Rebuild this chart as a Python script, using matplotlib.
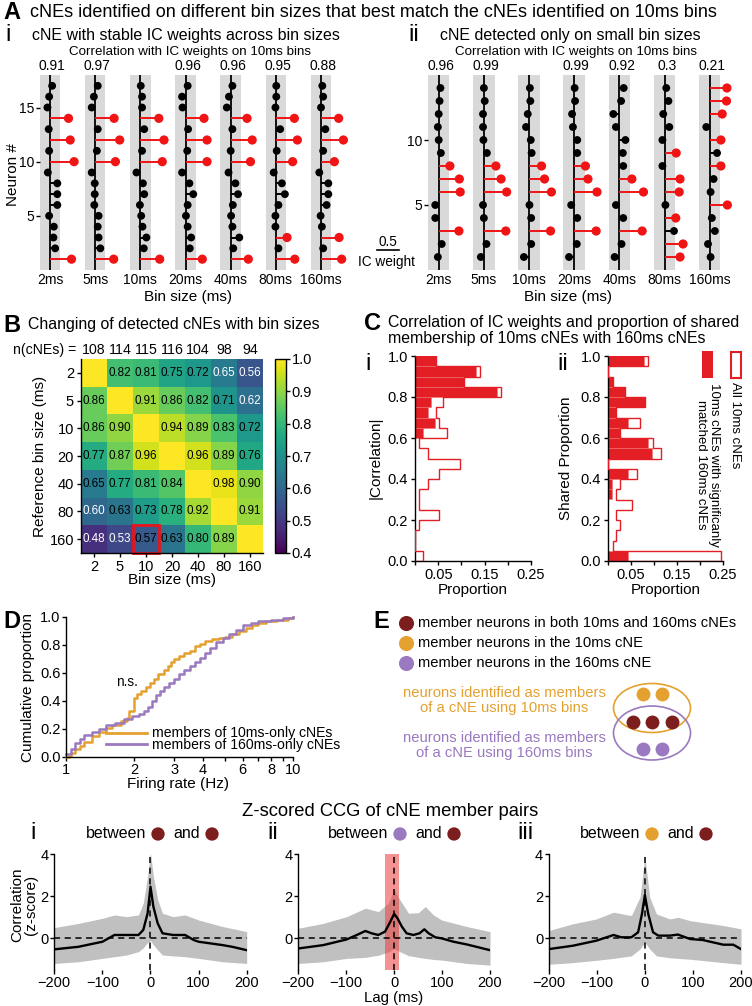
import numpy as np
import matplotlib
matplotlib.use("Agg")
import matplotlib.pyplot as plt
from matplotlib.patches import Rectangle, Ellipse
from matplotlib.transforms import blended_transform_factory
from matplotlib.ticker import NullFormatter

plt.rcParams["font.family"] = ["Liberation Sans", "DejaVu Sans"]
plt.rcParams["axes.linewidth"] = 1.0
plt.rcParams["xtick.major.width"] = 1.0
plt.rcParams["ytick.major.width"] = 1.0
plt.rcParams["xtick.minor.width"] = 1.0

# ---------------- data ----------------
bin_labels = ["2ms", "5ms", "10ms", "20ms", "40ms", "80ms", "160ms"]
bin_sizes = ["2", "5", "10", "20", "40", "80", "160"]

# A-i: IC weights, listed top neuron (17) -> bottom neuron (1)
ai_weights = [
    [0.05, -0.02, -0.06, 0.43, -0.03, 0.47, -0.02, 0.56, -0.05, 0.17, 0.17, 0.17, -0.02, 0.09, 0.08, 0.12, 0.50],
    [0.06, -0.03, -0.08, 0.44, 0.06, 0.57, 0.04, 0.47, -0.08, -0.01, -0.01, -0.02, 0.08, 0.06, 0.08, 0.12, 0.43],
    [0.01, 0.04, 0.04, 0.43, 0.09, 0.55, 0.04, 0.51, -0.09, 0.06, 0.09, -0.01, 0.02, 0.05, 0.14, 0.08, 0.45],
    [0.05, -0.08, -0.07, 0.43, 0.06, 0.50, 0.04, 0.50, -0.08, 0.09, 0.18, 0.05, 0.01, 0.05, 0.13, 0.10, 0.39],
    [0.04, -0.04, -0.09, 0.38, 0.04, 0.50, 0.00, 0.46, -0.05, 0.11, 0.17, 0.05, 0.01, 0.04, 0.20, 0.06, 0.41],
    [0.01, 0.01, -0.01, 0.43, 0.10, 0.50, 0.02, 0.39, -0.05, 0.14, 0.21, 0.06, -0.01, -0.01, 0.26, 0.06, 0.44],
    [0.03, 0.05, 0.00, 0.41, 0.10, 0.52, 0.05, 0.31, -0.04, 0.17, 0.17, 0.13, -0.01, 0.02, 0.42, 0.05, 0.48],
]
ai_corr = ["0.91", "0.97", "", "0.96", "0.96", "0.95", "0.88"]
ai_thr = 0.24

# A-ii: IC weights, top neuron (14) -> bottom neuron (1)
aii_weights = [
    [0.04, 0.02, 0.00, -0.02, 0.00, 0.05, 0.26, 0.48, 0.50, -0.08, -0.08, 0.47, 0.07, -0.02],
    [0.00, 0.02, -0.02, -0.02, -0.01, 0.07, 0.28, 0.40, 0.53, -0.02, 0.00, 0.51, 0.06, -0.07],
    [0.02, 0.03, -0.03, -0.07, 0.04, 0.06, 0.29, 0.36, 0.52, 0.01, 0.05, 0.50, 0.05, -0.12],
    [0.01, 0.02, -0.05, -0.03, 0.07, 0.07, 0.26, 0.32, 0.53, -0.07, 0.07, 0.51, 0.06, -0.12],
    [0.10, 0.04, -0.14, -0.08, 0.14, 0.08, 0.09, 0.29, 0.56, -0.08, 0.09, 0.53, 0.05, -0.11],
    [0.04, 0.09, -0.03, 0.11, -0.05, 0.27, -0.05, 0.36, 0.34, 0.02, 0.26, 0.22, 0.43, 0.36],
    [0.40, 0.39, 0.29, -0.08, 0.26, 0.17, 0.26, 0.09, 0.02, 0.41, 0.05, 0.12, -0.04, 0.02],
]
aii_corr = ["0.96", "0.99", "", "0.99", "0.92", "0.3", "0.21"]
aii_thr = 0.25

# B: correlation matrix (rows = reference bin size)
b_values = [
    [1.00, 0.82, 0.81, 0.75, 0.72, 0.65, 0.56],
    [0.86, 1.00, 0.91, 0.86, 0.82, 0.71, 0.62],
    [0.86, 0.90, 1.00, 0.94, 0.89, 0.83, 0.72],
    [0.77, 0.87, 0.96, 1.00, 0.96, 0.89, 0.76],
    [0.65, 0.77, 0.81, 0.84, 1.00, 0.98, 0.90],
    [0.60, 0.63, 0.73, 0.78, 0.92, 1.00, 0.91],
    [0.48, 0.53, 0.57, 0.63, 0.80, 0.89, 1.00],
]
b_white_cells = [(0, 5), (0, 6), (1, 6), (5, 0), (6, 0), (6, 1)]
n_cnes = [108, 114, 115, 116, 104, 98, 94]

# C: histograms, bins 0.00-0.05 ... 0.95-1.00
hist_edges = np.linspace(0, 1, 21)
ci_all = [0.018, 0, 0, 0.009, 0.052, 0.009, 0.009, 0.027, 0.052, 0.097,
          0.027, 0.009, 0.070, 0.052, 0.045, 0.061, 0.185, 0.106, 0.141, 0.045]
ci_matched = [0, 0, 0, 0, 0, 0, 0, 0, 0, 0,
              0, 0, 0.017, 0.043, 0.027, 0.034, 0.176, 0.106, 0.131, 0.045]
cii_all = [0.246, 0.010, 0.017, 0.027, 0.017, 0.053, 0.017, 0.025, 0.062, 0,
           0.115, 0.097, 0.027, 0.070, 0.018, 0.080, 0.036, 0.010, 0, 0.088]
cii_matched = [0.043, 0, 0, 0, 0, 0, 0.009, 0.009, 0.043, 0,
               0.096, 0.088, 0.027, 0.043, 0.018, 0.080, 0.036, 0.010, 0, 0.079]

# D: cumulative distributions (firing rate, cumulative proportion)
fr_10 = [1.0, 1.03, 1.05, 1.1, 1.15, 1.2, 1.3, 1.4, 1.5, 1.6, 1.75, 1.85, 1.9, 2.0, 2.05, 2.15,
         2.25, 2.35, 2.45, 2.55, 2.7, 2.8, 2.9, 3.0, 3.15, 3.3, 3.5, 3.7, 3.9, 4.1, 4.4,
         4.7, 5.0, 5.4, 5.8, 6.2, 6.6, 7.0, 7.6, 8.5, 9.5, 10.0]
cdf_10 = [0.0, 0.01, 0.03, 0.06, 0.08, 0.11, 0.15, 0.18, 0.21, 0.23, 0.26, 0.28, 0.33, 0.42, 0.45, 0.47,
          0.50, 0.53, 0.56, 0.59, 0.62, 0.65, 0.68, 0.70, 0.72, 0.74, 0.76, 0.79, 0.81, 0.83, 0.84,
          0.85, 0.86, 0.88, 0.90, 0.92, 0.94, 0.96, 0.97, 0.98, 0.99, 1.0]
fr_160 = [1.0, 1.05, 1.1, 1.15, 1.2, 1.3, 1.4, 1.5, 1.65, 1.8, 1.95, 2.1, 2.2, 2.3, 2.4, 2.5,
          2.6, 2.7, 2.85, 3.0, 3.15, 3.3, 3.5, 3.7, 3.9, 4.1, 4.3, 4.6, 4.9, 5.2, 5.6,
          6.0, 6.5, 7.0, 8.0, 9.0, 10.0]
cdf_160 = [0.02, 0.06, 0.10, 0.13, 0.16, 0.18, 0.20, 0.23, 0.24, 0.27, 0.29, 0.31, 0.33, 0.36, 0.40, 0.44,
           0.47, 0.50, 0.53, 0.56, 0.59, 0.62, 0.65, 0.68, 0.71, 0.74, 0.78, 0.82, 0.85, 0.88, 0.91,
           0.94, 0.96, 0.97, 0.98, 0.99, 1.0]

# bottom: z-scored CCG (mean and shaded band)
lag_i = [-200, -150, -100, -75, -50, -25, -15, -6, 0, 6, 15, 25, 47, 72, 90, 100, 150, 170, 200]
mean_i = [-0.52, -0.40, -0.16, 0.16, 0.16, 0.16, 0.40, 1.19, 2.45, 1.50, 0.71, 0.24, 0.16, 0.16, -0.08, -0.16, -0.32, -0.40, -0.56]
band_lag_i = [-200, -150, -100, -75, -50, -25, -15, -6, 0, 6, 15, 25, 47, 72, 100, 150, 200]
upper_i = [0.51, 0.71, 0.95, 1.11, 1.03, 1.11, 1.67, 2.94, 4.05, 2.94, 1.83, 1.19, 1.03, 1.11, 0.87, 0.56, 0.32]
lower_i = [-1.19, -1.11, -0.95, -0.87, -0.79, -0.63, -0.45, -0.20, -0.10, -0.30, -0.55, -0.79, -0.83, -0.87, -0.95, -1.11, -1.19]

lag_ii = [-200, -148, -99, -78, -60, -47, -33, -19, -8, 0, 7, 16, 26, 40, 53, 63, 72, 86, 99, 124, 152, 200]
mean_ii = [-0.48, -0.32, -0.05, 0.16, 0.35, 0.24, 0.16, 0.32, 0.79, 1.16, 0.95, 0.56, 0.24, 0.16, 0.24, 0.43, 0.24, 0.05, 0.0, -0.16, -0.29, -0.56]
band_lag_ii = [-200, -148, -99, -60, -33, -12, 0, 12, 30, 51, 65, 82, 99, 152, 200]
upper_ii = [0.48, 0.71, 1.03, 1.43, 1.27, 1.67, 2.30, 1.83, 1.19, 1.22, 1.51, 1.11, 0.87, 0.56, 0.32]
lower_ii = [-1.19, -1.11, -0.95, -0.90, -0.80, -0.65, -0.48, -0.63, -0.82, -0.90, -0.95, -1.00, -1.03, -1.19, -1.27]
ii_window = (-20, 10)

lag_iii = [-200, -150, -101, -65, -49, -28, -14, -6, 0, 7, 17, 28, 52, 69, 94, 121, 163, 184, 200]
mean_iii = [-0.51, -0.35, -0.11, 0.16, 0.05, 0.05, 0.29, 1.16, 2.05, 1.16, 0.29, 0.13, 0.13, 0.18, -0.03, -0.08, -0.30, -0.30, -0.51]
band_lag_iii = [-200, -150, -101, -65, -28, -10, 0, 10, 24, 52, 69, 94, 163, 200]
upper_iii = [0.37, 0.69, 0.92, 1.24, 1.08, 1.96, 3.87, 1.96, 1.16, 0.92, 1.00, 0.84, 0.61, 0.45]
lower_iii = [-1.23, -1.15, -1.04, -0.95, -0.83, -0.50, -0.19, -0.50, -0.83, -0.92, -0.95, -0.99, -1.15, -1.23]

# colours
RED = "#f01414"
HRED = "#e31e24"
GRAY = "#d9d9d9"
ORANGE = "#e4a12f"
PURPLE = "#9a79c0"
DARKRED = "#7d1e1e"

W, H = 752, 1006
fig = plt.figure(figsize=(W / 100, H / 100), dpi=100)


def add_ax(x0, y0, x1, y1):
    # axes from pixel box (y measured from top)
    return fig.add_axes([x0 / W, 1 - y1 / H, (x1 - x0) / W, (y1 - y0) / H])


ov = fig.add_axes([0, 0, 1, 1], zorder=10)
ov.set_xlim(0, W)
ov.set_ylim(H, 0)
ov.axis("off")


def txt(x, y, s, **kw):
    kw.setdefault("va", "center")
    kw.setdefault("ha", "left")
    ov.text(x, y, s, **kw)


# ---------------- panel A ----------------
PX_PER_W = 43.0
COL_STEP = 45.17 / PX_PER_W


def cne_panel(stem0_px, right_px, thr, weights, corr, yticks):
    n = len(weights[0])
    ax = add_ax(stem0_px - thr * PX_PER_W, 75, right_px, 270)
    ax.set_xlim(-thr, (right_px - stem0_px) / PX_PER_W)
    ax.set_ylim(0, n + 1)
    ys = np.arange(n, 0, -1)
    trans = blended_transform_factory(ax.transData, ax.transAxes)
    for k, w in enumerate(weights):
        x0 = k * COL_STEP
        w = np.asarray(w)
        member = w > thr
        cols = [RED if m else "k" for m in member]
        ax.axvspan(x0 - thr, x0 + thr, color=GRAY, lw=0, zorder=0)
        ax.plot([x0, x0], [0, n + 1], color="k", lw=1.3, zorder=2)
        ax.hlines(ys, x0, x0 + w, colors=cols, lw=1.4, zorder=2)
        ax.scatter(x0 + w, ys, s=np.where(member, 44, 32), c=cols, zorder=3, linewidths=0)
        ax.text(x0 + 0.05, 1.045, corr[k], transform=trans, ha="center", va="center", fontsize=10)
    ax.set_xticks([k * COL_STEP for k in range(len(weights))])
    ax.set_xticklabels(bin_labels)
    ax.tick_params(axis="x", length=0, pad=2, labelsize=10)
    ax.set_yticks(yticks)
    ax.tick_params(axis="y", length=3, pad=1, labelsize=10)
    for s in ax.spines.values():
        s.set_visible(False)
    ax.patch.set_alpha(0)
    return ax


cne_panel(50, 362, ai_thr, ai_weights, ai_corr, [5, 10, 15])
cne_panel(438.7, 745, aii_thr, aii_weights, aii_corr, [5, 10])

txt(3, 12, "A", fontsize=17, fontweight="bold")
txt(30, 12, "cNEs identified on different bin sizes that best match the cNEs identified on 10ms bins", fontsize=13)
txt(5, 35, "i", fontsize=17)
txt(186, 35, "cNE with stable IC weights across bin sizes", fontsize=11.5, ha="center")
txt(190, 52, "Correlation with IC weights on 10ms bins", fontsize=9.6, ha="center")
txt(408, 35, "ii", fontsize=17)
txt(570, 35, "cNE detected only on small bin sizes", fontsize=11.5, ha="center")
txt(576, 52, "Correlation with IC weights on 10ms bins", fontsize=9.6, ha="center")
txt(13, 175, "Neuron #", fontsize=11, ha="center", rotation=90)
txt(188, 297, "Bin size (ms)", fontsize=11, ha="center")
txt(568, 297, "Bin size (ms)", fontsize=11, ha="center")
# scale bar
ov.plot([377, 377 + 0.5 * PX_PER_W], [250, 250], color="k", lw=1.2)
txt(388, 242, "0.5", fontsize=9.8, ha="center")
txt(386, 262, "IC weight", fontsize=9.8, ha="center")

# ---------------- panel B ----------------
axB = add_ax(81, 359, 263, 553)
bv = np.array(b_values)
im = axB.imshow(bv, cmap="viridis", vmin=0.4, vmax=1.0, aspect="auto")
for i in range(bv.shape[0]):
    for j in range(bv.shape[1]):
        if i == j:
            continue
        c = "white" if (i, j) in b_white_cells else "black"
        axB.text(j, i, f"{bv[i, j]:.2f}", ha="center", va="center", fontsize=8.4, color=c)
axB.add_patch(Rectangle((1.5, 5.5), 1, 1, fill=False, ec="#e8141b", lw=2, clip_on=False))
axB.set_xticks(range(7))
axB.set_xticklabels(bin_sizes)
axB.set_yticks(range(7))
axB.set_yticklabels(bin_sizes)
axB.tick_params(length=3, pad=2, labelsize=10.5)
axB.spines["top"].set_visible(False)
axB.spines["right"].set_visible(False)
for j, n in enumerate(n_cnes):
    axB.text(j, -0.82, str(n), ha="center", va="center", fontsize=10.2)
cax = add_ax(275, 359, 286, 553)
cb = fig.colorbar(im, cax=cax, ticks=[0.4, 0.5, 0.6, 0.7, 0.8, 0.9, 1.0])
cb.ax.set_yticklabels(["0.4", "0.5", "0.6", "0.7", "0.8", "0.9", "1.0"])
cb.ax.tick_params(length=3, labelsize=10.5, pad=1)
cb.outline.set_linewidth(1.0)

txt(3, 325, "B", fontsize=17, fontweight="bold")
txt(28, 325, "Changing of detected cNEs with bin sizes", fontsize=11.4)
txt(13, 350, "n(cNEs) =", fontsize=10.2)
txt(40, 456, "Reference bin size (ms)", fontsize=11, ha="center", rotation=90)
txt(172, 580, "Bin size (ms)", fontsize=11, ha="center")


# ---------------- panel C ----------------
def hist_panel(box, all_vals, matched_vals, ylabel, ylab_x):
    ax = add_ax(*box)
    ax.barh(hist_edges[:-1], matched_vals, height=0.05, align="edge", color=HRED,
            edgecolor="#f07070", lw=0.4, zorder=2)
    ax.stairs(all_vals, hist_edges, orientation="horizontal", color=HRED, lw=1.0, zorder=3)
    ax.set_xlim(0, 0.25)
    ax.set_ylim(0, 1)
    ax.set_xticks(np.arange(0, 0.26, 0.05))
    ax.set_xticklabels(["", "0.05", "", "0.15", "", "0.25"])
    ax.set_yticks(np.arange(0, 1.01, 0.2))
    ax.set_yticklabels(["0.0", "0.2", "0.4", "0.6", "0.8", "1.0"])
    ax.tick_params(length=3, pad=2, labelsize=10.5)
    ax.spines["top"].set_visible(False)
    ax.spines["right"].set_visible(False)
    ax.patch.set_alpha(0)
    txt((box[0] + box[2]) / 2, 590, "Proportion", fontsize=11, ha="center")
    txt(ylab_x, 458, ylabel, fontsize=11, ha="center", rotation=90)
    return ax


hist_panel((415, 356, 531, 561), ci_all, ci_matched, "|Correlation|", 376)
hist_panel((608, 356, 723, 561), cii_all, cii_matched, "Shared Proportion", 566)

txt(364, 324, "C", fontsize=17, fontweight="bold")
txt(388, 323, "Correlation of IC weights and proportion of shared", fontsize=11.4)
txt(388, 339, "membership of 10ms cNEs with 160ms cNEs", fontsize=11.4)
txt(365, 364, "i", fontsize=17)
txt(557, 364, "ii", fontsize=17)
ov.add_patch(Rectangle((702, 351), 11, 27, color=HRED, lw=0))
ov.add_patch(Rectangle((730.5, 351.5), 10, 26, facecolor="white", edgecolor=HRED, lw=1.5))
txt(735.5, 382, "All 10ms cNEs", fontsize=9.5, ha="center", va="top", rotation=270)
txt(707.5, 383, "10ms cNEs with significanly\nmatched 160ms cNEs", fontsize=9.5, ha="center",
    va="top", rotation=270, linespacing=1.0)

# ---------------- panel D ----------------
axD = add_ax(66, 617, 293, 757)
axD.plot(fr_10, cdf_10, drawstyle="steps-post", color=ORANGE, lw=1.8, clip_on=False)
axD.plot(fr_160, cdf_160, drawstyle="steps-post", color=PURPLE, lw=1.8, clip_on=False)
axD.set_xscale("log")
axD.set_xlim(1, 10)
axD.set_ylim(0, 1)
axD.set_xticks([1, 2, 3, 4, 6, 8, 10])
axD.set_xticklabels(["1", "2", "3", "4", "6", "8", "10"])
axD.set_xticks([5, 7, 9], minor=True)
axD.xaxis.set_minor_formatter(NullFormatter())
axD.set_yticks(np.arange(0, 1.01, 0.2))
axD.set_yticklabels(["0.0", "0.2", "0.4", "0.6", "0.8", "1.0"])
axD.tick_params(which="both", length=3, pad=1, labelsize=10.5)
axD.spines["top"].set_visible(False)
axD.spines["right"].set_visible(False)
axD.patch.set_alpha(0)
txt(3, 622, "D", fontsize=17, fontweight="bold")
txt(127, 682, "n.s.", fontsize=9.8, ha="center")
ov.plot([106, 147], [733, 733], color=ORANGE, lw=2)
ov.plot([106, 147], [744, 744], color=PURPLE, lw=2)
txt(152, 733, "members of 10ms-only cNEs", fontsize=10.1)
txt(152, 745, "members of 160ms-only cNEs", fontsize=10.1)
txt(28, 687, "Cumulative proportion", fontsize=11, ha="center", rotation=90)
txt(178, 784, "Firing rate (Hz)", fontsize=11, ha="center")

# ---------------- panel E ----------------
txt(373, 622, "E", fontsize=17, fontweight="bold")
for yy, c, s in [(623, DARKRED, "member neurons in both 10ms and 160ms cNEs"),
                 (643, ORANGE, "member neurons in the 10ms cNE"),
                 (663, PURPLE, "member neurons in the 160ms cNE")]:
    ov.scatter([406], [yy], s=118, color=c, linewidths=0)
    txt(418, yy, s, fontsize=10.6)
txt(504, 693, "neurons identified as members", fontsize=10.6, ha="center", color=ORANGE)
txt(504, 708, "of a cNE using 10ms bins", fontsize=10.6, ha="center", color=ORANGE)
txt(504, 738, "neurons identified as members", fontsize=10.6, ha="center", color=PURPLE)
txt(504, 753, "of a cNE using 160ms bins", fontsize=10.6, ha="center", color=PURPLE)
ov.add_patch(Ellipse((652, 708), 77, 49, fill=False, ec=ORANGE, lw=1.2))
ov.add_patch(Ellipse((652, 733), 77, 54, fill=False, ec=PURPLE, lw=1.2))
ov.scatter([643, 662], [694, 694], s=100, color=ORANGE, linewidths=0)
ov.scatter([633, 652, 672], [722, 722, 722], s=100, color=DARKRED, linewidths=0)
ov.scatter([643, 662], [749, 749], s=100, color=PURPLE, linewidths=0)


# ---------------- bottom CCG ----------------
def ccg_panel(x0, x1, lag, mean, blag, up, lo):
    ax = add_ax(x0, 854, x1, 970)
    ax.fill_between(blag, lo, up, color="#c0c0c0", lw=0, zorder=1)
    ax.plot(lag, mean, color="k", lw=1.7, zorder=3)
    ax.axhline(0, color="k", lw=1.1, ls=(0, (4, 3)), zorder=4)
    ax.axvline(0, color="k", lw=1.1, ls=(0, (4, 3)), zorder=4)
    ax.set_xlim(-200, 200)
    ax.set_ylim(-1.5, 4)
    ax.set_xticks([-200, -100, 0, 100, 200])
    ax.set_xticklabels(["\u2212200", "\u2212100", "0", "100", "200"])
    ax.set_yticks([0, 2, 4])
    ax.tick_params(length=3, pad=1, labelsize=10.5)
    ax.spines["top"].set_visible(False)
    ax.spines["right"].set_visible(False)
    ax.spines["bottom"].set_visible(False)
    ax.patch.set_alpha(0)
    return ax


ccg_panel(54.3, 246.7, lag_i, mean_i, band_lag_i, upper_i, lower_i)
axii = ccg_panel(298.3, 490, lag_ii, mean_ii, band_lag_ii, upper_ii, lower_ii)
axii.axvspan(ii_window[0], ii_window[1], color="#ee3b3b", alpha=0.55, lw=0, zorder=2)
ccg_panel(548.7, 741, lag_iii, mean_iii, band_lag_iii, upper_iii, lower_iii)

txt(390, 812, "Z-scored CCG of cNE member pairs", fontsize=13.2, ha="center")
txt(24, 905, "Correlation\n(z-score)", fontsize=11, ha="center", rotation=90, linespacing=1.0)
txt(394, 998, "Lag (ms)", fontsize=10.8, ha="center")

for lab, lx in [("i", 30), ("ii", 267), ("iii", 517)]:
    txt(lx, 833, lab, fontsize=17)
for (w1, c1, a1, c2), (col1, col2) in [((86, 158, 173, 212), (DARKRED, DARKRED)),
                                       ((328, 400, 415, 454), (PURPLE, DARKRED)),
                                       ((580, 652, 667, 706), (ORANGE, DARKRED))]:
    txt(w1, 833, "between", fontsize=11.5)
    txt(a1, 833, "and", fontsize=11.5)
    ov.scatter([c1, c2], [834, 834], s=92, color=[col1, col2], linewidths=0)

fig.savefig("out.png", dpi=100)
